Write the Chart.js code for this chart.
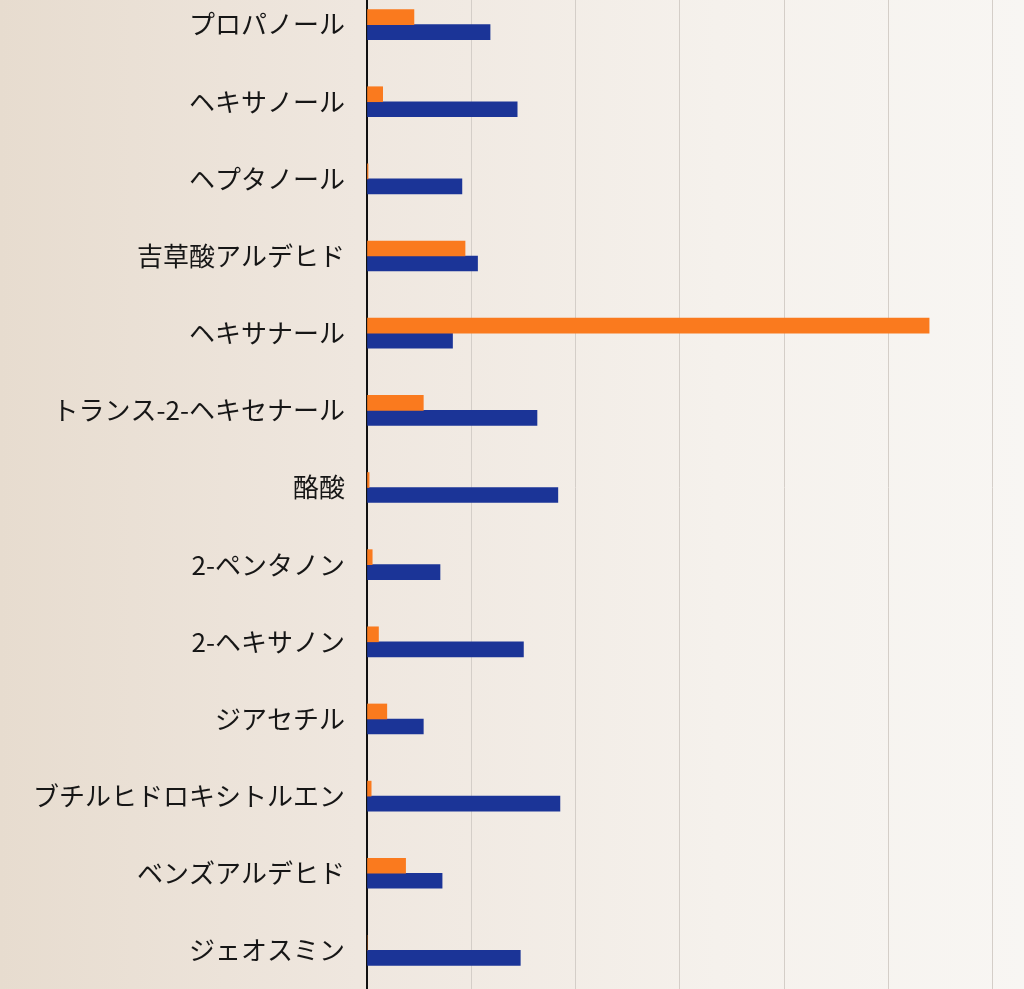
<!DOCTYPE html>
<html lang="ja">
<head>
<meta charset="utf-8">
<script src="https://cdn.jsdelivr.net/npm/chart.js@4/dist/chart.umd.min.js"></script>
<style>
  html, body { margin: 0; padding: 0; width: 1024px; height: 989px; overflow: hidden; }
  body { background: linear-gradient(90deg, #e7dccf 0%, #efe7df 35%, #f5f1ec 70%, #f8f6f3 100%); }
  #wrap { position: absolute; left: 0; top: -14px; width: 1024px; height: 1003px; }
</style>
</head>
<body>
<div id="wrap"><canvas id="c"></canvas></div>
<script>
const categories = [
  "プロパノール", "ヘキサノール", "ヘプタノール", "吉草酸アルデヒド", "ヘキサナール",
  "トランス-2-ヘキセナール", "酪酸", "2-ペンタノン", "2-ヘキサノン", "ジアセチル",
  "ブチルヒドロキシトルエン", "ベンズアルデヒド", "ジェオスミン"
];
const seriesOrange = [0.45, 0.15, 0.01, 0.94, 5.39, 0.54, 0.02, 0.05, 0.11, 0.19, 0.04, 0.37, 0.0];
const seriesBlue   = [1.18, 1.44, 0.91, 1.06, 0.82, 1.63, 1.83, 0.70, 1.50, 0.54, 1.85, 0.72, 1.47];
const xGridValues  = [0, 1, 2, 3, 4, 5, 6];

new Chart(document.getElementById('c'), {
  type: 'bar',
  data: {
    labels: categories,
    datasets: [
      { label: 'A', data: seriesOrange, backgroundColor: '#fa7a1e', barThickness: 15 },
      { label: 'B', data: seriesBlue, backgroundColor: '#1b3497', barThickness: 15 }
    ]
  },
  options: {
    indexAxis: 'y',
    responsive: true,
    maintainAspectRatio: false,
    animation: false,
    layout: { padding: 0 },
    plugins: { legend: { display: false }, tooltip: { enabled: false } },
    scales: {
      x: {
        min: 0,
        max: 6.3,
        afterBuildTicks: (scale) => { scale.ticks = xGridValues.map(v => ({ value: v })); },
        afterFit: (scale) => { scale.height = 0; scale.paddingLeft = 0; scale.paddingRight = 0; },
        ticks: { display: false },
        grid: { color: '#d4cec8', lineWidth: 1, drawTicks: false },
        border: { display: false }
      },
      y: {
        afterFit: (scale) => { scale.width = 367; scale.paddingTop = 0; scale.paddingBottom = 0; },
        ticks: {
          color: '#161616',
          padding: 22,
          font: { family: '"Noto Sans CJK JP", "Noto Sans", sans-serif', size: 26 }
        },
        grid: { display: false, drawTicks: false },
        border: { display: true, color: '#111', width: 2 }
      }
    }
  }
});
</script>
</body>
</html>
